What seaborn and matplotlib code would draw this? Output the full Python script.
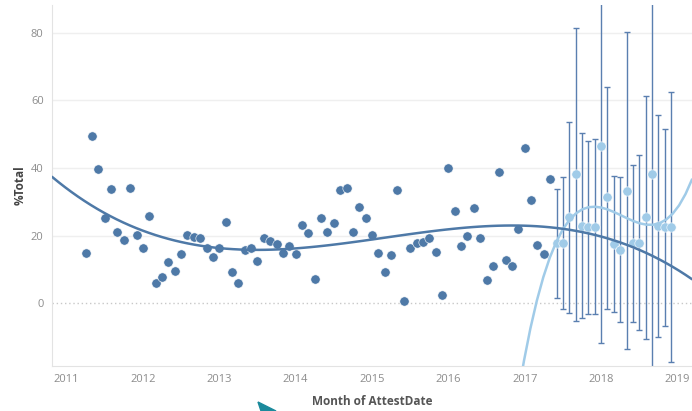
import numpy as np
import pandas as pd
import matplotlib.pyplot as plt
import seaborn as sns
from matplotlib.patches import Polygon

# observed monthly %Total, Apr 2011 .. May 2017
actual_values = [
    14.7, 49.5, 39.6, 25.1, 33.7, 20.9, 18.8, 34.2, 20.1,
    16.3, 25.7, 5.9, 7.7, 12.3, 9.5, 14.4, 20.1, 19.6, 19.3, 16.3, 13.7,
    16.3, 24.1, 9.3, 6.1, 15.7, 16.3, 12.4, 19.2, 18.4, 17.6, 14.7, 16.9,
    14.5, 23.1, 20.6, 7.0, 25.1, 21.1, 23.6, 33.4, 34.2, 20.9, 28.3, 25.1,
    20.1, 14.7, 9.3, 14.2, 33.4, 0.5, 16.3, 17.8, 18.2, 19.4, 15.0, 2.3,
    40.1, 27.2, 16.8, 19.9, 28.0, 19.4, 6.7, 11.1, 38.9, 12.9, 11.1, 22.0,
    45.9, 30.4, 17.1, 14.5, 36.6,
]
# forecast, Jun 2017 .. Dec 2018
forecast_values = [17.8, 17.8, 25.4, 38.1, 22.8, 22.6, 22.6,
                   46.4, 31.4, 17.5, 15.7, 33.2, 17.8, 17.8, 25.4, 38.1, 22.8, 22.6, 22.6]
forecast_upper = [33.8, 37.2, 53.5, 81.3, 50.2, 48.1, 48.6,
                  105.0, 63.9, 37.7, 37.2, 80.1, 41.0, 43.7, 61.3, 100.0, 55.8, 51.4, 62.6]
forecast_lower = [1.6, -1.6, -3.0, -5.4, -4.3, -3.3, -3.3,
                  -11.9, -1.6, -2.6, -5.7, -13.6, -5.7, -8.0, -10.6, -25.0, -10.1, -6.7, -17.4]
year_ticks = [2011, 2012, 2013, 2014, 2015, 2016, 2017, 2018, 2019]
y_ticks = [0, 20, 40, 60, 80]


def to_decimal_year(dates):
    return dates.year + (dates.month - 1) / 12


actual = pd.DataFrame({
    "date": pd.date_range("2011-04-01", periods=len(actual_values), freq="MS"),
    "total": actual_values,
})
actual["x"] = to_decimal_year(actual["date"].dt)

forecast = pd.DataFrame({
    "date": pd.date_range("2017-06-01", periods=len(forecast_values), freq="MS"),
    "total": forecast_values,
    "upper": forecast_upper,
    "lower": forecast_lower,
})
forecast["x"] = to_decimal_year(forecast["date"].dt)

dark = "#4e79a7"
light = "#a0cbe8"

sns.set_style("white")
plt.rcParams["font.family"] = ["Open Sans", "DejaVu Sans"]

fig = plt.figure(figsize=(6.92, 4.11), dpi=100)
ax = fig.add_axes([52 / 692, 1 - 366 / 411, 640 / 692, 361 / 411])
# set limits first so the trend lines span the whole axis
ax.set_xlim(2010.81, 2019.19)
ax.set_ylim(-18.6, 88.2)

for v in y_ticks[1:]:
    ax.axhline(v, color="#efefef", lw=1, zorder=0)
ax.axhline(0, color="#c8c8c8", lw=1, ls=(0, (1, 2)), zorder=0)

# forecast prediction intervals
ax.errorbar(forecast["x"], forecast["total"],
            yerr=[forecast["total"] - forecast["lower"], forecast["upper"] - forecast["total"]],
            fmt="none", ecolor="#5a7fb0", elinewidth=1.0, capsize=2.5, capthick=1.0, zorder=2)

sns.scatterplot(data=actual, x="x", y="total", color=dark, s=45,
                edgecolor="white", linewidth=0.4, ax=ax, zorder=3)
sns.scatterplot(data=forecast, x="x", y="total", color=light, s=45,
                edgecolor="white", linewidth=0.4, ax=ax, zorder=3)

# cubic trend lines
sns.regplot(data=forecast, x="x", y="total", order=3, scatter=False, ci=None,
            truncate=False, line_kws={"color": light, "lw": 1.8, "zorder": 4}, ax=ax)
sns.regplot(data=actual, x="x", y="total", order=3, scatter=False, ci=None,
            truncate=False, line_kws={"color": dark, "lw": 1.8, "zorder": 4}, ax=ax)
ax.set_xlim(2010.81, 2019.19)
ax.set_ylim(-18.6, 88.2)

ax.set_xticks(year_ticks)
ax.set_xticklabels([str(y) for y in year_ticks])
ax.set_yticks(y_ticks)
ax.tick_params(length=0, labelsize=8, labelcolor="#8c8c8c", pad=6)
for side in ["top", "right"]:
    ax.spines[side].set_visible(False)
for side in ["left", "bottom"]:
    ax.spines[side].set_color("#e3e3e3")

ax.set_xlabel("Month of AttestDate", fontsize=8.5, fontweight="bold", color="#555555", labelpad=7)
ax.set_ylabel("%Total", fontsize=8.5, fontweight="bold", color="#444444", labelpad=3)

# stray teal marker from the source screenshot
fig.patches.append(Polygon([(258 / 692, 1 - 402 / 411), (276 / 692, 0.0), (261 / 692, 0.0)],
                           closed=True, transform=fig.transFigure, color="#1b8a9c"))

fig.savefig("out.png", dpi=100)
